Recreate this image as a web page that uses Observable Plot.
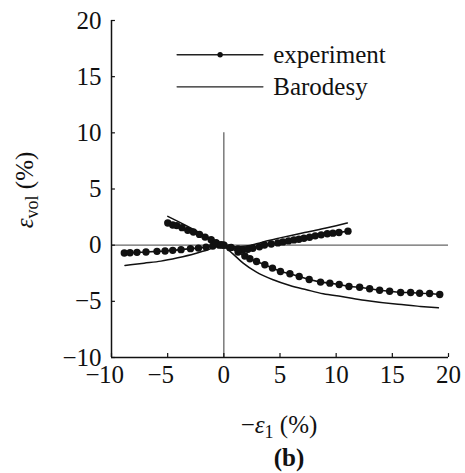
<!DOCTYPE html>
<html>
<head>
<meta charset="utf-8">
<script src="https://cdn.jsdelivr.net/npm/d3@7"></script>
<script src="https://cdn.jsdelivr.net/npm/@observablehq/plot@0.6"></script>
<style>
  html, body { margin: 0; padding: 0; background: #fff; }
  svg, svg text { font-family: "Liberation Serif", "Times New Roman", Times, serif !important; }
</style>
</head>
<body>
<div id="chart"></div>
<script>
// Experiment, test 1 (extension branch lower-left, compression branch upper-right)
const exp1X = [-8.86,-8.35,-7.73,-6.93,-5.95,-5.23,-4.55,-3.81,-2.97,-2.26,-1.58,-0.98,-0.39,0,0.65,1.25,1.69,2.14,2.58,3.17,3.62,4.22,4.81,5.26,5.76,6.24,6.68,7.13,7.63,8.14,8.67,9.21,9.71,10.25,11.05];
const exp1Y = [-0.70,-0.67,-0.64,-0.61,-0.55,-0.52,-0.46,-0.40,-0.31,-0.26,-0.17,-0.08,0.0,0,-0.20,-0.34,-0.40,-0.37,-0.28,-0.14,0.02,0.11,0.20,0.29,0.38,0.47,0.53,0.62,0.71,0.83,0.92,1.01,1.07,1.13,1.25];
// Experiment, test 2 (upper-left, lower-right)
const exp2X = [-4.99,-4.55,-4.19,-3.72,-3.21,-2.71,-2.17,-1.67,-1.13,-0.69,-0.24,0,0.53,1.27,1.87,2.32,2.91,3.65,4.33,5.04,5.88,6.71,7.6,8.61,9.44,10.27,11.14,12.09,12.98,13.87,14.76,15.74,16.63,17.43,18.32,19.22];
const exp2Y = [1.97,1.79,1.74,1.56,1.32,1.17,0.96,0.72,0.49,0.22,0.04,0,-0.22,-0.61,-0.97,-1.21,-1.45,-1.74,-2.04,-2.34,-2.54,-2.79,-3.05,-3.29,-3.38,-3.5,-3.68,-3.74,-3.88,-4.01,-4.1,-4.21,-4.21,-4.28,-4.3,-4.39];
// Barodesy simulations
const baro1X = [-8.8,-7.1,-5.6,-4.1,-2.6,-1.4,0,1,2,3,4,5,6,7,8,9,10,11];
const baro1Y = [-1.8,-1.6,-1.42,-1.12,-0.76,-0.4,0,-0.15,-0.08,0.15,0.42,0.65,0.87,1.08,1.28,1.5,1.73,1.97];
const baro2X = [-4.99,-4,-3,-2,-1,0,0.5,1,1.72,2.91,4.39,5.88,7.36,8.85,10.48,12.5,15.5,17.5,19.1];
const baro2Y = [2.57,2.07,1.55,1.03,0.5,0,-0.5,-0.95,-1.6,-2.4,-3.08,-3.59,-3.97,-4.33,-4.57,-4.9,-5.27,-5.45,-5.58];

const xTicks = [-10,-5,0,5,10,15,20];
const yTicks = [-10,-5,0,5,10,15,20];
const legendLabels = ["experiment", "Barodesy"];

const zip = (xs, ys) => xs.map((x, i) => ({x, y: ys[i]}));
const exp1 = zip(exp1X, exp1Y);
const exp2 = zip(exp2X, exp2Y);
const baro1 = zip(baro1X, baro1Y);
const baro2 = zip(baro2X, baro2Y);

const FONT = "'Liberation Serif', 'Times New Roman', Times, serif";
const fmt = d => (d < 0 ? "\u2212" : "") + Math.abs(d);
const FS = 25;

const legendExpLine = [{x: -4.16, y: 16.95}, {x: 3.48, y: 16.95}];
const legendBaroLine = [{x: -4.16, y: 14.1}, {x: 3.48, y: 14.1}];

const svg = Plot.plot({
  width: 465,
  height: 473,
  marginLeft: 111,
  marginRight: 17,
  marginTop: 20,
  marginBottom: 116,
  style: {fontFamily: FONT, background: "#fff"},
  x: {domain: [-10, 20], axis: null},
  y: {domain: [-10, 20], axis: null},
  marks: [
    // zero reference lines
    Plot.ruleY([0], {x1: -10, x2: 20, stroke: "#666", strokeWidth: 1.3}),
    Plot.ruleX([0], {y1: -10, y2: 10, stroke: "#666", strokeWidth: 1.3}),
    // axis lines
    Plot.ruleX([-10], {y1: -10, y2: 20, stroke: "#111", strokeWidth: 1.5}),
    Plot.ruleY([-10], {x1: -10, x2: 20, stroke: "#111", strokeWidth: 1.5}),
    // inward ticks
    Plot.ruleY(yTicks, {x1: -10, x2: -9.65, stroke: "#111", strokeWidth: 1.2}),
    Plot.ruleX(xTicks, {y1: -10, y2: -9.65, stroke: "#111", strokeWidth: 1.2}),
    // y tick labels
    Plot.text(yTicks, {y: d => d, frameAnchor: "left", text: fmt, textAnchor: "end", dx: -10, fontSize: FS, fontFamily: FONT, fill: "#111"}),
    // x tick labels: digits centred on tick, minus hanging left
    Plot.text(xTicks, {x: d => d, frameAnchor: "bottom", text: d => String(Math.abs(d)), textAnchor: "middle", dy: 25, fontSize: FS, fontFamily: FONT, fill: "#111"}),
    Plot.text(xTicks.filter(d => d < 0 && Math.abs(d) >= 10), {x: d => d, frameAnchor: "bottom", text: () => "\u2212", textAnchor: "end", dx: -12, dy: 25, fontSize: FS, fontFamily: FONT, fill: "#111"}),
    Plot.text(xTicks.filter(d => d < 0 && Math.abs(d) < 10), {x: d => d, frameAnchor: "bottom", text: () => "\u2212", textAnchor: "end", dx: -6, dy: 25, fontSize: FS, fontFamily: FONT, fill: "#111"}),
    // Barodesy curves
    Plot.line(baro1, {x: "x", y: "y", stroke: "#111", strokeWidth: 1.5, curve: "monotone-x"}),
    Plot.line(baro2, {x: "x", y: "y", stroke: "#111", strokeWidth: 1.5, curve: "monotone-x"}),
    // experiment curves
    Plot.line(exp1, {x: "x", y: "y", stroke: "#111", strokeWidth: 1.6}),
    Plot.line(exp2, {x: "x", y: "y", stroke: "#111", strokeWidth: 1.6}),
    Plot.dot(exp1, {x: "x", y: "y", r: 3.7, fill: "#111", stroke: "none"}),
    Plot.dot(exp2, {x: "x", y: "y", r: 3.7, fill: "#111", stroke: "none"}),
    // legend
    Plot.line(legendExpLine, {x: "x", y: "y", stroke: "#222", strokeWidth: 1.3}),
    Plot.dot([{x: -0.33, y: 16.95}], {x: "x", y: "y", r: 2.7, fill: "#111", stroke: "none"}),
    Plot.line(legendBaroLine, {x: "x", y: "y", stroke: "#222", strokeWidth: 1.3}),
    Plot.text([{x: 4.4, y: 16.95, t: legendLabels[0]}, {x: 4.4, y: 14.1, t: legendLabels[1]}],
      {x: "x", y: "y", text: "t", textAnchor: "start", lineAnchor: "middle", fontSize: FS, fontFamily: FONT, fill: "#111"})
  ]
});

const s = d3.select(svg);
// y axis label: ε_vol (%)
const yl = s.append("text")
  .attr("transform", "translate(33,190) rotate(-90)")
  .attr("text-anchor", "middle")
  .attr("font-size", FS)
  .attr("fill", "#111")
  .attr("font-family", FONT);
yl.append("tspan").attr("font-style", "italic").text("\u03b5");
yl.append("tspan").attr("font-size", 18).attr("dy", 5).text("vol");
yl.append("tspan").attr("dy", -5).text(" (%)");

// x axis label: −ε1 (%)
const xl = s.append("text")
  .attr("x", 279).attr("y", 433)
  .attr("text-anchor", "middle")
  .attr("font-size", FS)
  .attr("fill", "#111")
  .attr("font-family", FONT);
xl.append("tspan").text("\u2212");
xl.append("tspan").attr("font-style", "italic").text("\u03b5");
xl.append("tspan").attr("font-size", 18).attr("dy", 5).text("1");
xl.append("tspan").attr("dy", -5).text(" (%)");

// panel label
s.append("text")
  .attr("x", 289).attr("y", 466)
  .attr("text-anchor", "middle")
  .attr("font-size", FS)
  .attr("font-weight", "bold")
  .attr("fill", "#111")
  .attr("font-family", FONT)
  .text("(b)");

document.getElementById("chart").appendChild(svg);
</script>
</body>
</html>
